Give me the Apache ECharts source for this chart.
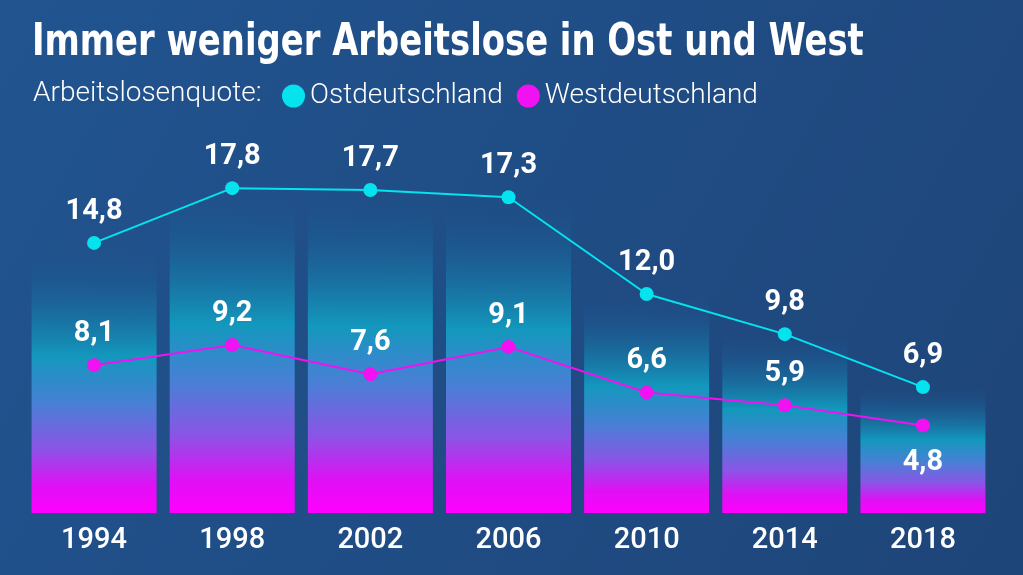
<!DOCTYPE html>
<html><head><meta charset="utf-8">
<script src="https://cdn.jsdelivr.net/npm/echarts@6/dist/echarts.min.js"></script>
<style>html,body{margin:0;padding:0;background:#1f4a80}#c{width:1023px;height:575px}</style>
</head><body><div id="c"></div>
<script>
const years = ['1994','1998','2002','2006','2010','2014','2018'];
const ost = [14.8, 17.8, 17.7, 17.3, 12.0, 9.8, 6.9];
const west = [8.1, 9.2, 7.6, 9.1, 6.6, 5.9, 4.8];
const titleText = 'Immer weniger Arbeitslose in Ost und West';
const subText = 'Arbeitslosenquote:';
const names = ['Ostdeutschland', 'Westdeutschland'];
const fmt = v => v.toFixed(1).replace('.', ',');

const chart = echarts.init(document.getElementById('c'));
const labelStyle = {color:'#fff', fontFamily:'Roboto', fontWeight:'bold', fontSize:29};
chart.setOption({
  backgroundColor: {type:'linear', x:0, y:0, x2:1, y2:1, colorStops:[{offset:0,color:'#215490'},{offset:1,color:'#1e4579'}]},
  animation:false,
  graphic:[
    {type:'text', x:32, y:22, scaleX:0.855, scaleY:1, silent:true,
      style:{text:titleText, fill:'#fff', font:'bold 44px "DejaVu Sans Condensed"', verticalAlign:'top'}}
  ],
  title:[
    {text:subText, left:28, top:75, textStyle:{color:'#fff', fontFamily:'Roboto', fontWeight:300, fontSize:28}}
  ],
  legend:{
    data:names, left:277, top:77, icon:'circle', itemWidth:23, itemHeight:23, itemGap:14,
    textStyle:{color:'#fff', fontFamily:'Roboto', fontWeight:300, fontSize:28}
  },
  grid:{left:25, right:31, top:148, bottom:62},
  xAxis:{type:'category', data:years, axisLine:{show:false}, axisTick:{show:false},
    axisLabel:{color:'#fff', fontFamily:'Roboto', fontWeight:500, fontSize:29, margin:13}},
  yAxis:{type:'value', min:0, max:20, show:false, splitLine:{show:false}},
  series:[
    {type:'bar', data:ost, barWidth:125, silent:true, z:1,
      itemStyle:{color:{type:'linear', x:0, y:0, x2:0, y2:1, colorStops:[
        {offset:0, color:'rgba(31,80,135,0)'},
        {offset:0.15, color:'rgba(26,95,150,0.55)'},
        {offset:0.42, color:'#1398bd'},
        {offset:0.6, color:'#4a7fd6'},
        {offset:0.76, color:'#8a55e6'},
        {offset:0.9, color:'#e010f5'},
        {offset:1, color:'#ff00ff'}]}}},
    {name:names[0], type:'line', data:ost, z:3, symbol:'circle', symbolSize:14,
      lineStyle:{color:'#05e3ee', width:2}, itemStyle:{color:'#05e3ee'},
      label:{show:true, position:'top', distance:10, formatter:p=>fmt(p.value), ...labelStyle}},
    {name:names[1], type:'line', data:west.map((v,i)=> i===west.length-1 ? {value:v, label:{position:'bottom', distance:16}} : v), z:3, symbol:'circle', symbolSize:14,
      lineStyle:{color:'#f012f0', width:2}, itemStyle:{color:'#f012f0'},
      label:{show:true, position:'top', distance:10, formatter:p=>fmt(p.value), ...labelStyle}}
  ]
});
</script></body></html>
